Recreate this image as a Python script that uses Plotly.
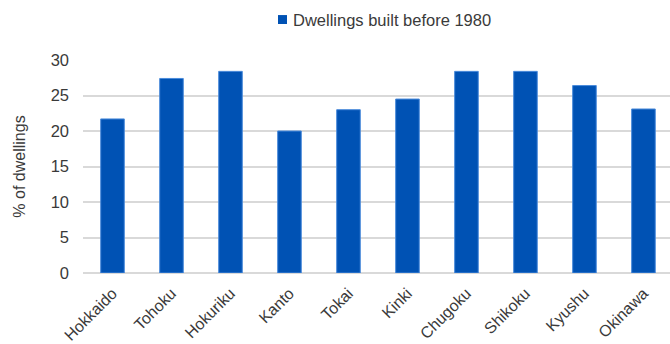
import plotly.graph_objects as go

regions = ["Hokkaido", "Tohoku", "Hokuriku", "Kanto", "Tokai", "Kinki",
           "Chugoku", "Shikoku", "Kyushu", "Okinawa"]
share_pre1980 = [21.7, 27.4, 28.4, 20.0, 23.0, 24.5, 28.4, 28.4, 26.4, 23.1]
series_name = "Dwellings built before 1980"
y_ticks = [0, 5, 10, 15, 20, 25, 30]

BAR = "#0052B4"
TXT = "#3A3A3A"

fig = go.Figure()
fig.add_trace(go.Bar(
    x=regions, y=share_pre1980, name=series_name,
    marker=dict(color=BAR, line=dict(color="#4A8BDB", width=1)),
    showlegend=False,
))

# legend drawn as key square + text
fig.add_shape(type="rect", xref="paper", yref="paper",
              x0=0.3322, x1=0.3475, y0=1.169, y1=1.211,
              fillcolor=BAR, line=dict(width=0))
fig.add_annotation(text=series_name, xref="paper", yref="paper",
                   x=0.3543, y=1.188, xanchor="left", yanchor="middle",
                   showarrow=False, font=dict(size=16.5, color=TXT))

fig.update_layout(
    width=670, height=344,
    margin=dict(l=83, r=0, t=60, b=71),
    paper_bgcolor="white", plot_bgcolor="white",
    font=dict(family="Liberation Sans, Arial, sans-serif", color=TXT),
    bargap=0.6,
    showlegend=False,
    xaxis=dict(range=[-0.5, 9.45], tickangle=-45, tickfont=dict(size=16, color=TXT),
               showgrid=False, showline=False, ticks="", ticklabelstandoff=7),
    yaxis=dict(range=[0, 30], tickvals=y_ticks, tickfont=dict(size=16.5, color=TXT),
               showgrid=True, gridcolor="#D9D9D9", gridwidth=1.5, zeroline=True,
               zerolinecolor="#D9D9D9", zerolinewidth=1.5, ticks="", ticklen=0,
               ticklabelstandoff=13,
               title=dict(text="% of dwellings", font=dict(size=16, color=TXT), standoff=21)),
)

fig.write_html("out.html")
